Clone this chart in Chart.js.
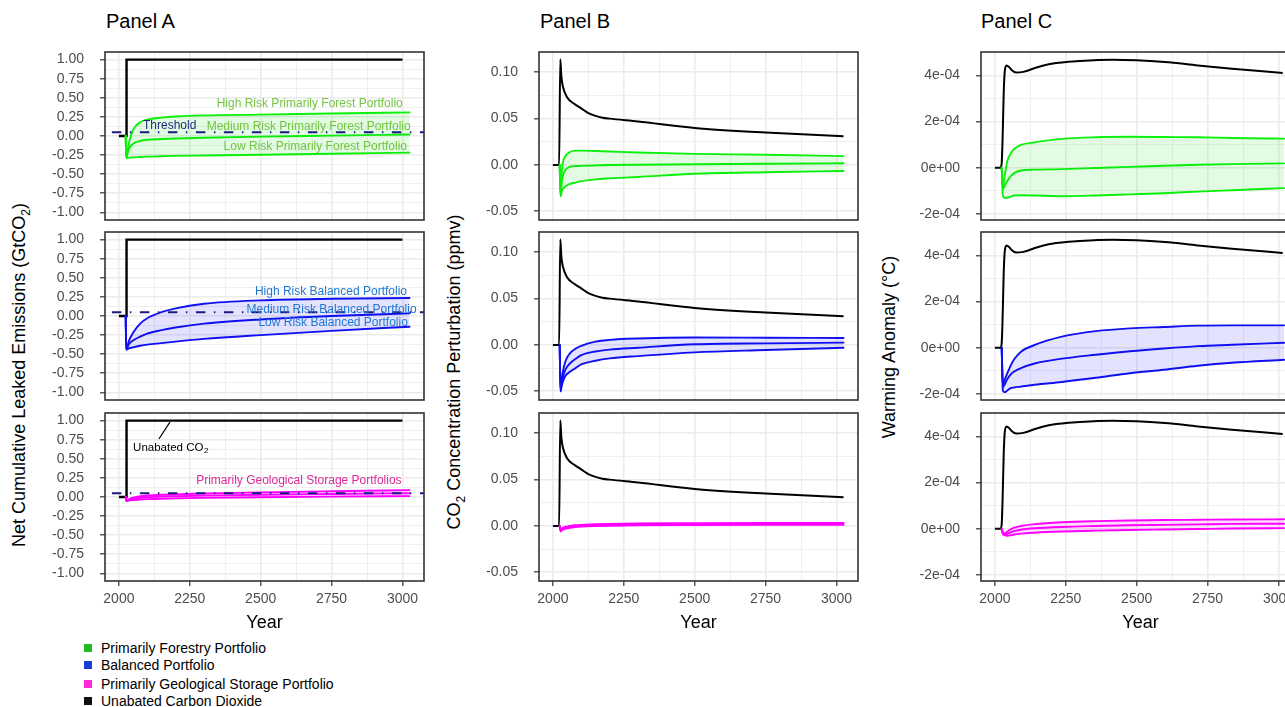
<!DOCTYPE html>
<html>
<head>
<meta charset="utf-8">
<script src="https://cdn.jsdelivr.net/npm/chart.js@4.4.1/dist/chart.umd.min.js"></script>
<style>
  body { margin:0; width:1285px; height:707px; overflow:hidden; background:#fff; position:relative;
         font-family:"Liberation Sans", Arial, Helvetica, sans-serif; }
  canvas { position:absolute; }
  .ttl { position:absolute; font-size:20px; line-height:20px; color:#000; }
  .ylab { position:absolute; font-size:18px; white-space:nowrap; color:#000;
          transform:translate(-50%,-50%) rotate(-90deg); }
  .ylab sub { font-size:12px; }
  .leg { position:absolute; left:84px; font-size:14px; line-height:16px; color:#000; }
  .leg i { display:inline-block; width:8px; height:8px; margin-right:9px; vertical-align:1px; }
</style>
</head>
<body>

<div class="ttl" style="left:106px;top:11px">Panel A</div>
<div class="ttl" style="left:540px;top:11px">Panel B</div>
<div class="ttl" style="left:981px;top:11px">Panel C</div>

<div class="ylab" style="left:21px;top:375px">Net Cumulative Leaked Emissions (GtCO<sub>2</sub>)</div>
<div class="ylab" style="left:456px;top:372px">CO<sub>2</sub> Concentration Perturbation (ppmv)</div>
<div class="ylab" style="left:889px;top:347px">Warming Anomaly (°C)</div>

<div class="leg" style="top:640px"><i style="background:#22bb22"></i>Primarily Forestry Portfolio</div>
<div class="leg" style="top:657px"><i style="background:#1a3fd0"></i>Balanced Portfolio</div>
<div class="leg" style="top:676px"><i style="background:#ff2ad4"></i>Primarily Geological Storage Portfolio</div>
<div class="leg" style="top:693px"><i style="background:#111"></i>Unabated Carbon Dioxide</div>

<canvas id="c00"></canvas><canvas id="c10"></canvas><canvas id="c20"></canvas>
<canvas id="c01"></canvas><canvas id="c11"></canvas><canvas id="c21"></canvas>
<canvas id="c02"></canvas><canvas id="c12"></canvas><canvas id="c22"></canvas>

<script>
/* ---------- axes ---------- */
var majorYears = [2000, 2250, 2500, 2750, 3000];
var minorYears = [2125, 2375, 2625, 2875];

var majorA = [-1, -0.75, -0.5, -0.25, 0, 0.25, 0.5, 0.75, 1];
var minorA = [-0.875, -0.625, -0.375, -0.125, 0.125, 0.375, 0.625, 0.875];
var majorB = [-0.05, 0, 0.05, 0.1];
var minorB = [-0.025, 0.025, 0.075];
var majorC = [-2e-4, 0, 2e-4, 4e-4];
var minorC = [-1e-4, 1e-4, 3e-4];

/* ---------- Panel A : cumulative leaked emissions ---------- */
var unabatedYearsA = [2000, 2027, 2027, 3000];
var unabatedA      = [0, 0, 1, 1];
var thresholdYears = [1940, 3090];
var thresholdA     = [0.05, 0.05];
var leaderYears    = [2141, 2180];
var leaderA        = [0.76, 0.98];

var portfolioYearsA = [2024, 2026, 2035, 2050, 2075, 2100, 2150, 2200, 2300, 2500, 2750, 3025];
var forestHighA   = [0, -0.28, -0.1, 0.08, 0.18, 0.215, 0.24, 0.255, 0.27, 0.28, 0.295, 0.31];
var forestMedA    = [0, -0.28, -0.17, -0.1, -0.065, -0.05, -0.04, -0.032, -0.022, -0.008, 0.005, 0.02];
var forestLowA    = [0, -0.29, -0.285, -0.28, -0.275, -0.27, -0.265, -0.26, -0.255, -0.245, -0.232, -0.218];
var balancedHighA = [0, -0.44, -0.33, -0.22, -0.1, -0.03, 0.05, 0.1, 0.16, 0.205, 0.225, 0.235];
var balancedMedA  = [0, -0.44, -0.37, -0.32, -0.27, -0.23, -0.185, -0.15, -0.1, -0.045, 0, 0.035];
var balancedLowA  = [0, -0.44, -0.425, -0.41, -0.39, -0.375, -0.355, -0.335, -0.3, -0.25, -0.195, -0.14];
var geoHighA      = [0, -0.05, -0.03, -0.01, 0.01, 0.02, 0.03, 0.035, 0.045, 0.06, 0.075, 0.09];
var geoMedA       = [0, -0.05, -0.04, -0.025, -0.01, -0.003, 0.005, 0.01, 0.018, 0.03, 0.04, 0.05];
var geoLowA       = [0, -0.05, -0.045, -0.04, -0.033, -0.028, -0.022, -0.018, -0.012, -0.003, 0.005, 0.012];

/* ---------- Panel B : CO2 concentration perturbation ---------- */
var unabatedYearsB = [2000, 2022, 2026, 2030, 2035, 2050, 2075, 2100, 2125, 2150, 2175, 2200, 2300, 2500, 2750, 3025];
var unabatedB      = [0, 0, 0.114, 0.095, 0.085, 0.073, 0.066, 0.061, 0.056, 0.053, 0.051, 0.05, 0.047, 0.04, 0.035, 0.031];

var portfolioYearsB = [2024, 2027, 2030, 2035, 2045, 2060, 2080, 2100, 2150, 2200, 2300, 2500, 2750, 3025];
var forestHighB   = [0, -0.03, -0.012, 0.002, 0.01, 0.014, 0.0155, 0.0155, 0.015, 0.0145, 0.0135, 0.012, 0.011, 0.0095];
var forestMedB    = [0, -0.033, -0.022, -0.012, -0.005, -0.002, -0.0012, -0.001, -0.0005, 0, 0.0003, 0.0008, 0.0013, 0.0018];
var forestLowB    = [0, -0.034, -0.03, -0.026, -0.023, -0.0205, -0.019, -0.0175, -0.0155, -0.0145, -0.013, -0.0095, -0.0078, -0.0065];
var balancedHighB = [0, -0.05, -0.04, -0.029, -0.017, -0.009, -0.004, -0.001, 0.0036, 0.0055, 0.007, 0.008, 0.0078, 0.0075];
var balancedMedB  = [0, -0.05, -0.043, -0.035, -0.026, -0.02, -0.015, -0.011, -0.007, -0.005, -0.003, 0.0007, 0.0017, 0.0025];
var balancedLowB  = [0, -0.05, -0.046, -0.04, -0.033, -0.029, -0.025, -0.021, -0.017, -0.0145, -0.012, -0.008, -0.0055, -0.003];
var geoHighB      = [0, -0.004, -0.003, -0.002, -0.001, 0, 0.0008, 0.0012, 0.0018, 0.0022, 0.0027, 0.003, 0.0032, 0.0033];
var geoMedB       = [0, -0.005, -0.004, -0.003, -0.002, -0.001, 0, 0.0005, 0.001, 0.0013, 0.0017, 0.002, 0.0022, 0.0023];
var geoLowB       = [0, -0.006, -0.005, -0.004, -0.003, -0.002, -0.0012, -0.0007, -0.0001, 0.0003, 0.0007, 0.001, 0.0012, 0.0013];

/* ---------- Panel C : warming anomaly ---------- */
var unabatedYearsC = [2000, 2020, 2024, 2027, 2031, 2035, 2041, 2050, 2060, 2075, 2100, 2150, 2200, 2300, 2416, 2600, 2716, 2836, 3015];
var unabatedC      = [0, 0, 2e-5, 1.2e-4, 3.2e-4, 4.2e-4, 4.43e-4, 4.36e-4, 4.22e-4, 4.12e-4, 4.15e-4, 4.35e-4, 4.5e-4, 4.62e-4, 4.68e-4, 4.58e-4, 4.43e-4, 4.29e-4, 4.1e-4];

var portfolioYearsC = [2024, 2028, 2034, 2044, 2056, 2068, 2092, 2140, 2236, 2356, 2476, 2596, 2716, 2836, 3020];
var forestHighC   = [0, -8.5e-5, -4e-5, 3e-5, 6.2e-5, 8.1e-5, 9.9e-5, 1.1e-4, 1.25e-4, 1.32e-4, 1.34e-4, 1.33e-4, 1.32e-4, 1.29e-4, 1.26e-4];
var forestMedC    = [0, -9.3e-5, -8e-5, -5.7e-5, -3.6e-5, -2.3e-5, -1.2e-5, -8e-6, -6e-6, -1e-6, 4e-6, 9e-6, 1.3e-5, 1.6e-5, 1.9e-5];
var forestLowC    = [0, -1.2e-4, -1.3e-4, -1.3e-4, -1.25e-4, -1.2e-4, -1.19e-4, -1.2e-4, -1.23e-4, -1.2e-4, -1.15e-4, -1.1e-4, -1.03e-4, -9.7e-5, -8.8e-5];
var balancedHighC = [0, -1.63e-4, -1.4e-4, -1.1e-4, -7.6e-5, -5e-5, -1.7e-5, 1.2e-5, 4.8e-5, 7.2e-5, 8.4e-5, 9e-5, 9.6e-5, 9.7e-5, 9.7e-5];
var balancedMedC  = [0, -1.7e-4, -1.6e-4, -1.35e-4, -1.15e-4, -1.03e-4, -8.8e-5, -6.8e-5, -4.7e-5, -3e-5, -1.5e-5, -3e-6, 7e-6, 1.3e-5, 2.2e-5];
var balancedLowC  = [0, -1.85e-4, -1.92e-4, -1.85e-4, -1.75e-4, -1.72e-4, -1.68e-4, -1.6e-4, -1.48e-4, -1.3e-4, -1.1e-4, -9.5e-5, -7.8e-5, -6.5e-5, -5.2e-5];
var geoHighC      = [0, -1.5e-5, -2e-5, -1.2e-5, -2e-6, 5e-6, 1.2e-5, 2e-5, 2.8e-5, 3.3e-5, 3.6e-5, 3.8e-5, 3.9e-5, 4e-5, 4.1e-5];
var geoMedC       = [0, -2e-5, -2.5e-5, -2.2e-5, -1.6e-5, -1e-5, -4e-6, 2e-6, 8e-6, 1.2e-5, 1.5e-5, 1.7e-5, 1.9e-5, 2.1e-5, 2.2e-5];
var geoLowC       = [0, -2.2e-5, -2.8e-5, -3e-5, -2.8e-5, -2.5e-5, -2.1e-5, -1.7e-5, -1.2e-5, -8e-6, -5e-6, -3e-6, -1e-6, 1e-6, 3e-6];

/* ---------- look ---------- */
var FAMILY = '"Liberation Sans", Arial, Helvetica, sans-serif';
var colLeft = [105, 539, 981];
var rowTop = [52, 231.5, 413];
var plotW = 319, plotH = 168, yW = 70, padT = 8, padR = 6, xH = 54;

var groupColor = ['#0cf00c', '#1010f0', '#ff00ff'];
var groupFill  = ['rgba(0,220,0,0.11)', 'rgba(0,0,255,0.11)', 'rgba(255,0,255,0.13)'];

function pts(xs, ys) { return xs.map(function (x, i) { return {x: x, y: ys[i]}; }); }
function isIn(list, v) { return list.some(function (m) { return Math.abs(m - v) < 1e-9; }); }
function sci(v) {
  if (Math.abs(v) < 1e-12) return '0e+00';
  var e = Math.floor(Math.log10(Math.abs(v)) + 1e-9);
  var m = Math.round(v / Math.pow(10, e));
  return m + 'e' + (e < 0 ? '-' : '+') + String(Math.abs(e)).padStart(2, '0');
}

var yAxes = [
  {min: -1.1, max: 1.1, major: majorA, minor: minorA, fmt: function (v) { return v.toFixed(2); }},
  {min: -0.0594, max: 0.1219, major: majorB, minor: minorB, fmt: function (v) { return v.toFixed(2); }},
  {min: -2.26e-4, max: 5.01e-4, major: majorC, minor: minorC, fmt: sci}
];

var series = [
  [ // Panel A
    [portfolioYearsA, forestHighA, forestMedA, forestLowA],
    [portfolioYearsA, balancedHighA, balancedMedA, balancedLowA],
    [portfolioYearsA, geoHighA, geoMedA, geoLowA]
  ],
  [ // Panel B
    [portfolioYearsB, forestHighB, forestMedB, forestLowB],
    [portfolioYearsB, balancedHighB, balancedMedB, balancedLowB],
    [portfolioYearsB, geoHighB, geoMedB, geoLowB]
  ],
  [ // Panel C
    [portfolioYearsC, forestHighC, forestMedC, forestLowC],
    [portfolioYearsC, balancedHighC, balancedMedC, balancedLowC],
    [portfolioYearsC, geoHighC, geoMedC, geoLowC]
  ]
];
var unabated = [[unabatedYearsA, unabatedA], [unabatedYearsB, unabatedB], [unabatedYearsC, unabatedC]];

// text labels in data coordinates (Panel A only)
var notesA = [
  [
    {text: 'High Risk Primarily Forest Portfolio', x: 3001, y: 0.428, color: '#74c442', align: 'right'},
    {text: 'Medium Risk Primarily Forest Portfolio', x: 3029, y: 0.122, color: '#74c442', align: 'right'},
    {text: 'Low Risk Primarily Forest Portfolio', x: 3016, y: -0.14, color: '#74c442', align: 'right'},
    {text: 'Threshold', x: 2085, y: 0.131, color: '#1f2a80', align: 'left'}
  ],
  [
    {text: 'High Risk Balanced Portfolio', x: 3016, y: 0.312, color: '#1e78d2', align: 'right'},
    {text: 'Medium Risk Balanced Portfolio', x: 3050, y: 0.085, color: '#1e78d2', align: 'right'},
    {text: 'Low Risk Balanced Portfolio', x: 3019, y: -0.094, color: '#1e78d2', align: 'right'}
  ],
  [
    {text: 'Primarily Geological Storage Portfolios', x: 2997, y: 0.21, color: '#de2a9a', align: 'right'},
    {text: 'Unabated CO', sub: '2', x: 2050, y: 0.642, color: '#000', align: 'left', size: 11.5}
  ]
];

/* ---------- plugins ---------- */
var framePlugin = {
  id: 'frame',
  afterDraw: function (chart) {
    var a = chart.chartArea, ctx = chart.ctx;
    ctx.save();
    ctx.strokeStyle = '#333333';
    ctx.lineWidth = 1.6;
    ctx.strokeRect(a.left, a.top, a.right - a.left, a.bottom - a.top);
    ctx.restore();
  }
};

function notesPlugin(items) {
  return {
    id: 'notes',
    afterDatasetsDraw: function (chart) {
      var ctx = chart.ctx, xs = chart.scales.x, ys = chart.scales.y;
      items.forEach(function (n) {
        var px = xs.getPixelForValue(n.x), py = ys.getPixelForValue(n.y);
        var size = n.size || 12;
        ctx.save();
        ctx.font = size + 'px ' + FAMILY;
        ctx.fillStyle = n.color;
        ctx.textBaseline = 'middle';
        ctx.textAlign = n.align;
        ctx.fillText(n.text, px, py);
        if (n.sub) {
          var w = ctx.measureText(n.text).width;
          ctx.font = (size * 0.7) + 'px ' + FAMILY;
          ctx.textAlign = 'left';
          ctx.fillText(n.sub, px + w + 0.5, py + 3);
        }
        ctx.restore();
      });
    }
  };
}

/* ---------- build the 9 panels ---------- */
function makePanel(col, row) {
  var bottom = row === 2;
  var ya = yAxes[col];
  var s = series[col][row];
  var color = groupColor[row], fill = groupFill[row];
  var lineBase = {pointRadius: 0, borderWidth: 1.9, cubicInterpolationMode: 'monotone', borderCapStyle: 'round'};

  var datasets = [];
  if (col === 0) {
    datasets.push({data: pts(thresholdYears, thresholdA), borderColor: '#1a1a80', borderWidth: 2,
      borderDash: [1.5, 8.5, 9.5, 8.5], pointRadius: 0, fill: false});
  }
  datasets.push(Object.assign({data: pts(s[0], s[1]), borderColor: color,
    fill: {target: '+2', above: fill, below: fill}}, lineBase));
  datasets.push(Object.assign({data: pts(s[0], s[2]), borderColor: color, fill: false}, lineBase));
  datasets.push(Object.assign({data: pts(s[0], s[3]), borderColor: color, fill: false}, lineBase));
  var u = unabated[col];
  datasets.push({data: pts(u[0], u[1]), borderColor: '#000', borderWidth: col === 0 ? 2.4 : 2,
    pointRadius: 0, fill: false, tension: 0, cubicInterpolationMode: col === 0 ? 'default' : 'monotone'});
  if (col === 0 && row === 2) {
    datasets.push({data: pts(leaderYears, leaderA), borderColor: '#000', borderWidth: 1.2, pointRadius: 0, fill: false});
  }

  var cv = document.getElementById('c' + col + row);
  var w = yW + plotW + padR;
  var h = padT + plotH + (bottom ? xH : 3);
  cv.width = w; cv.height = h;
  cv.style.left = (colLeft[col] - yW) + 'px';
  cv.style.top = (rowTop[row] - padT) + 'px';
  cv.style.width = w + 'px'; cv.style.height = h + 'px';

  var plugins = [framePlugin];
  if (col === 0) plugins.push(notesPlugin(notesA[row]));

  return new Chart(cv.getContext('2d'), {
    type: 'line',
    data: {datasets: datasets},
    plugins: plugins,
    options: {
      responsive: false,
      animation: false,
      events: [],
      layout: {padding: {top: padT, right: padR, left: 0, bottom: bottom ? 0 : 3}},
      plugins: {legend: {display: false}, tooltip: {enabled: false}},
      scales: {
        x: {
          type: 'linear', min: 1951, max: 3076,
          afterBuildTicks: function (sc) {
            sc.ticks = majorYears.concat(minorYears).sort().map(function (v) { return {value: v}; });
          },
          afterFit: function (sc) {
            sc.height = bottom ? xH : 0;
            sc.paddingLeft = 0; sc.paddingRight = 0;
          },
          border: {display: false},
          grid: {
            color: '#ebebeb',
            lineWidth: function (c) { return c.tick && isIn(majorYears, c.tick.value) ? 1.6 : 0.8; },
            drawTicks: bottom, tickLength: 5, tickWidth: 1.2,
            tickColor: function (c) { return c.tick && isIn(majorYears, c.tick.value) ? '#333333' : 'rgba(0,0,0,0)'; }
          },
          ticks: {
            display: bottom, autoSkip: false, maxRotation: 0, padding: 5, color: '#4d4d4d',
            font: {size: 14, family: FAMILY},
            callback: function (v) { return isIn(majorYears, v) ? String(v) : ''; }
          },
          title: {display: bottom, text: 'Year', color: '#000', font: {size: 18, family: FAMILY},
                  padding: {top: 0, bottom: 1}}
        },
        y: {
          type: 'linear', min: ya.min, max: ya.max,
          afterBuildTicks: function (sc) {
            sc.ticks = ya.major.concat(ya.minor).sort(function (a, b) { return a - b; })
              .map(function (v) { return {value: v}; });
          },
          afterFit: function (sc) {
            sc.width = yW;
            sc.paddingTop = 0; sc.paddingBottom = 0;
          },
          border: {display: false},
          grid: {
            color: '#ebebeb',
            lineWidth: function (c) { return c.tick && isIn(ya.major, c.tick.value) ? 1.6 : 0.8; },
            tickLength: 5, tickWidth: 1.2,
            tickColor: function (c) { return c.tick && isIn(ya.major, c.tick.value) ? '#333333' : 'rgba(0,0,0,0)'; }
          },
          ticks: {
            autoSkip: false, padding: 16, color: '#4d4d4d',
            font: {size: 14, family: FAMILY},
            callback: function (v) { return isIn(ya.major, v) ? ya.fmt(v) : ''; }
          }
        }
      }
    }
  });
}

for (var col = 0; col < 3; col++) {
  for (var row = 0; row < 3; row++) {
    makePanel(col, row);
  }
}
</script>
</body>
</html>
